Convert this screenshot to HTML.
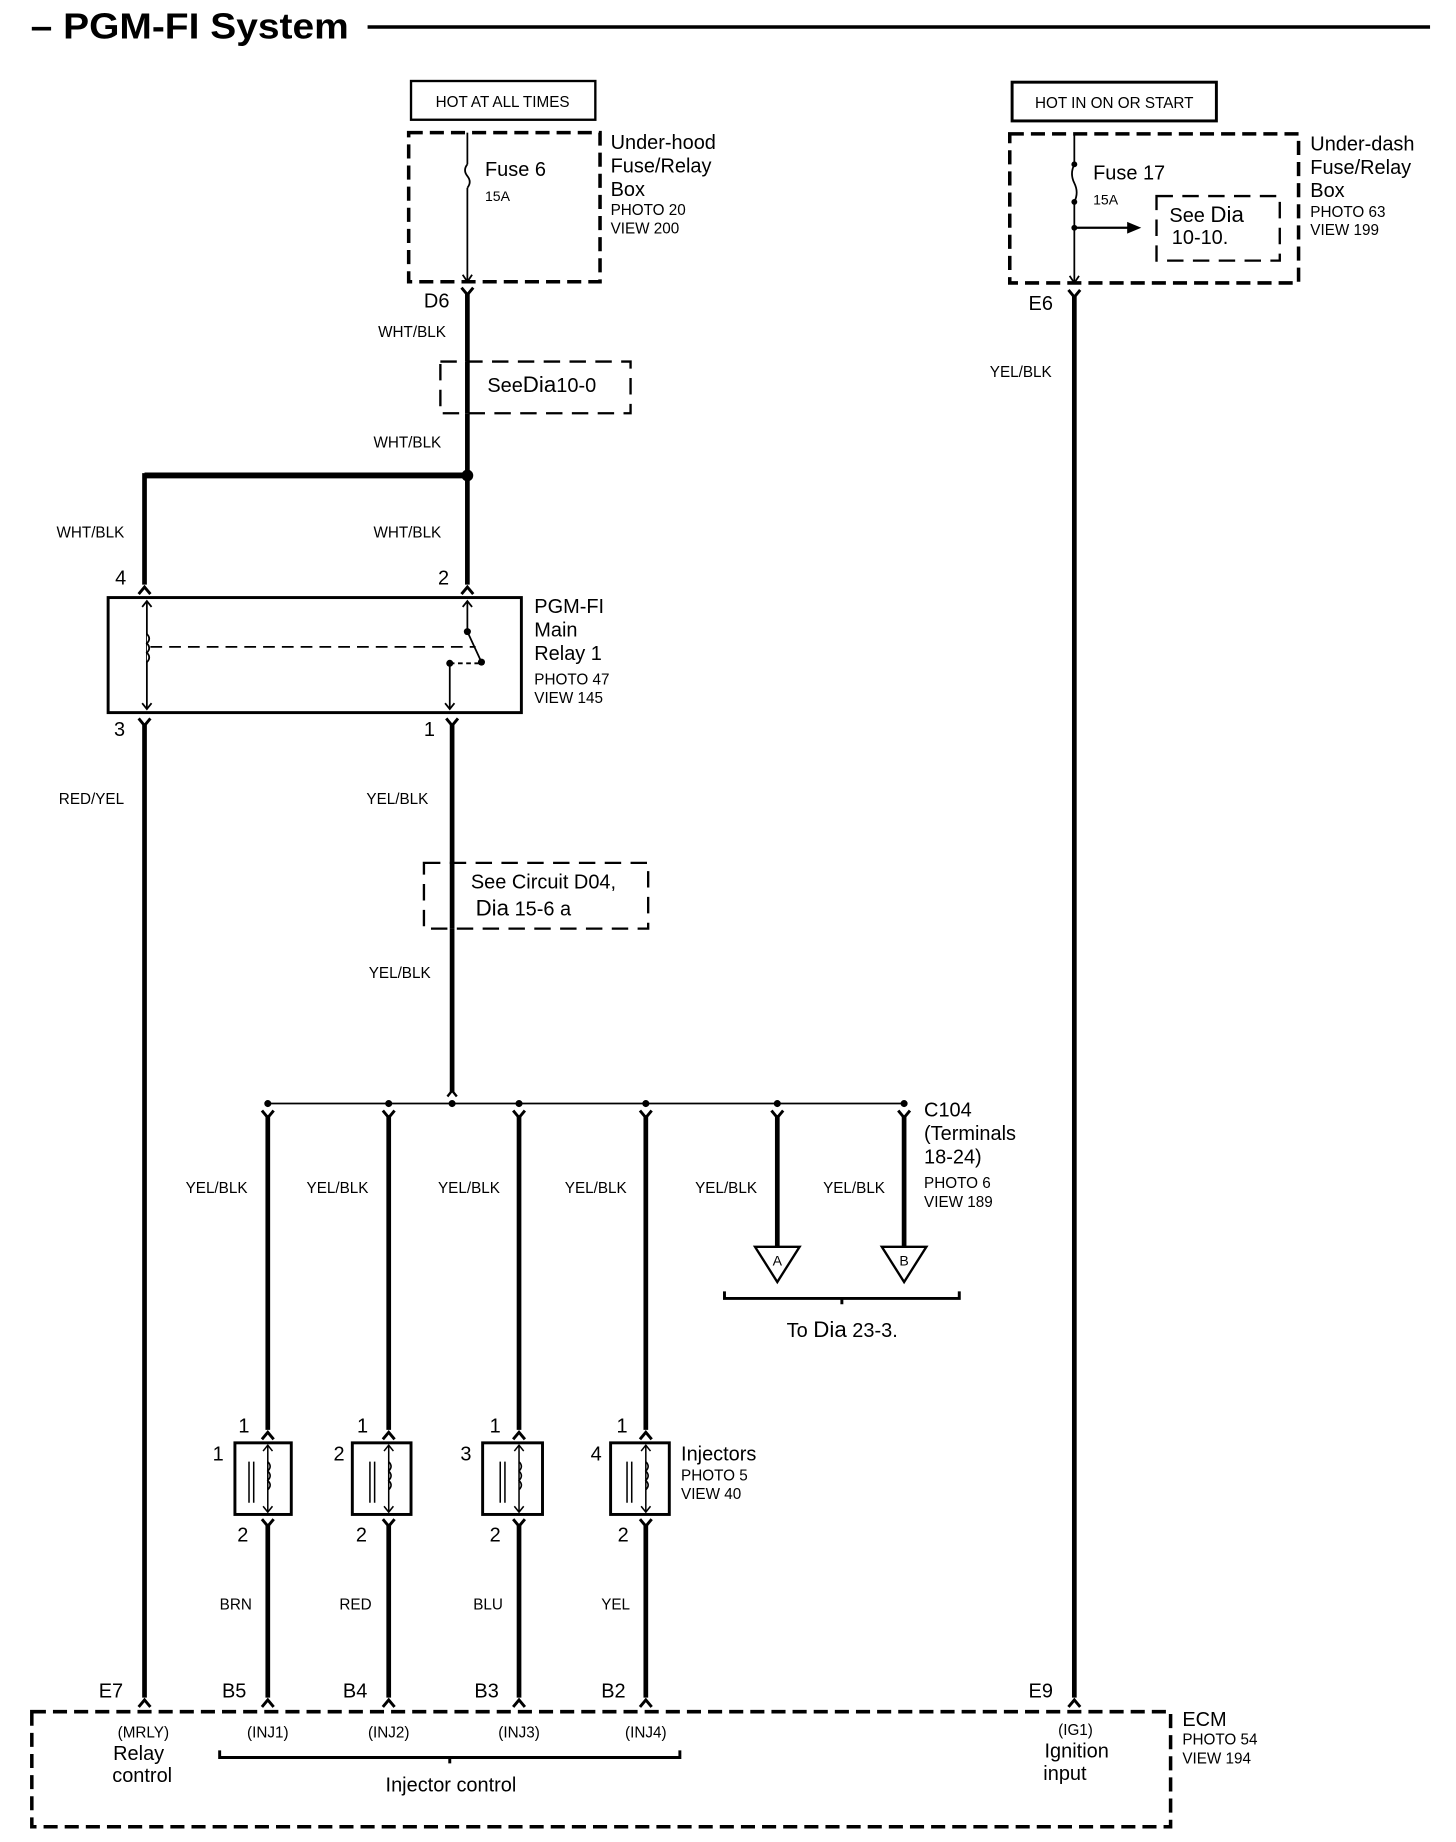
<!DOCTYPE html>
<html><head><meta charset="utf-8"><style>
html,body{margin:0;padding:0;background:#fff}
svg{display:block}
text{font-family:"Liberation Sans",sans-serif;fill:#000}
.s13{font-size:13px}.s17{font-size:17px}
</style></head><body>
<svg width="1456" height="1842" viewBox="0 0 1240 1569" xmlns="http://www.w3.org/2000/svg">
<defs>
<path id="fdn" d="M-5,-4 L0,2 L5,-4" fill="none" stroke="#000" stroke-width="2.5"/>
<path id="fup" d="M-5,4 L0,-2 L5,4" fill="none" stroke="#000" stroke-width="2.5"/>
</defs>
<!-- title -->
<text x="26" y="33" textLength="271" lengthAdjust="spacingAndGlyphs" style="font-size:31px;font-weight:bold">– PGM-FI System</text>
<line x1="313" y1="23" x2="1218" y2="23" stroke="#000" stroke-width="3"/>

<!-- left supply -->
<rect x="350" y="69" width="157" height="33" fill="none" stroke="#000" stroke-width="2"/>
<text x="428" y="91" class="s13" text-anchor="middle">HOT AT ALL TIMES</text>
<rect x="348" y="113" width="163" height="127" fill="none" stroke="#000" stroke-width="3" stroke-dasharray="12,6"/>
<line x1="398" y1="113" x2="398" y2="140" stroke="#000" stroke-width="1.5"/>
<path d="M398,140 q-4,5 0,10 q4,5 0,10" fill="none" stroke="#000" stroke-width="1.5"/>
<line x1="398" y1="160" x2="398" y2="240" stroke="#000" stroke-width="1.5"/>
<path d="M394,234 L398,240 L402,234" fill="none" stroke="#000" stroke-width="1.5"/>
<text x="413" y="150" class="s17">Fuse 6</text>
<text x="413" y="171" style="font-size:12px">15A</text>
<text x="520" y="127" class="s17">Under-hood</text>
<text x="520" y="147" class="s17">Fuse/Relay</text>
<text x="520" y="167" class="s17">Box</text>
<text x="520" y="183" class="s13">PHOTO 20</text>
<text x="520" y="199" class="s13">VIEW 200</text>
<text x="361" y="262" class="s17">D6</text>
<use href="#fdn" x="398" y="249"/>
<line x1="398" y1="250" x2="398" y2="405" stroke="#000" stroke-width="4"/>
<text x="322" y="287" class="s13">WHT/BLK</text>
<rect x="375" y="308" width="162" height="44" fill="#fff" stroke="#000" stroke-width="2" stroke-dasharray="14,8"/>
<line x1="398" y1="308" x2="398" y2="352" stroke="#000" stroke-width="4"/>
<text x="415" y="334" class="s17">See<tspan style="font-size:19px">Dia</tspan>10-0</text>
<text x="318" y="381" class="s13">WHT/BLK</text>
<circle cx="398" cy="405" r="5"/>
<line x1="123" y1="405" x2="398" y2="405" stroke="#000" stroke-width="5"/>
<line x1="123" y1="403" x2="123" y2="498" stroke="#000" stroke-width="4"/>
<line x1="398" y1="405" x2="398" y2="498" stroke="#000" stroke-width="4"/>
<text x="48" y="458" class="s13">WHT/BLK</text>
<text x="318" y="458" class="s13">WHT/BLK</text>
<text x="98" y="498" class="s17">4</text>
<text x="373" y="498" class="s17">2</text>
<use href="#fup" x="123" y="502"/>
<use href="#fup" x="398" y="502"/>

<!-- relay -->
<rect x="92" y="509" width="352" height="98" fill="none" stroke="#000" stroke-width="2.5"/>
<line x1="125" y1="512" x2="125" y2="604" stroke="#000" stroke-width="1.5"/>
<path d="M121,517 L125,512 L129,517 M121,599 L125,604 L129,599" fill="none" stroke="#000" stroke-width="1.5"/>
<path d="M125,540 q4,4 0,8 q4,4 0,8 q4,4 0,8" fill="#fff" stroke="#000" stroke-width="1.5"/>
<line x1="128" y1="551" x2="405" y2="551" stroke="#000" stroke-width="1.5" stroke-dasharray="10,6"/>
<line x1="398" y1="512" x2="398" y2="538" stroke="#000" stroke-width="1.5"/>
<path d="M394,517 L398,512 L402,517" fill="none" stroke="#000" stroke-width="1.5"/>
<circle cx="398" cy="538" r="3"/>
<line x1="398" y1="538" x2="410" y2="564" stroke="#000" stroke-width="1.5"/>
<circle cx="410" cy="564" r="3"/>
<circle cx="383" cy="565" r="3"/>
<line x1="383" y1="565" x2="410" y2="565" stroke="#000" stroke-width="1.5" stroke-dasharray="4,3"/>
<line x1="383" y1="565" x2="383" y2="604" stroke="#000" stroke-width="1.5"/>
<path d="M379,599 L383,604 L387,599" fill="none" stroke="#000" stroke-width="1.5"/>
<text x="455" y="522" class="s17">PGM-FI</text>
<text x="455" y="542" class="s17">Main</text>
<text x="455" y="562" class="s17">Relay 1</text>
<text x="455" y="583" class="s13">PHOTO 47</text>
<text x="455" y="599" class="s13">VIEW 145</text>
<text x="97" y="627" class="s17">3</text>
<text x="361" y="627" class="s17">1</text>
<use href="#fdn" x="123" y="616"/>
<use href="#fdn" x="385" y="616"/>
<line x1="123" y1="617" x2="123" y2="1446" stroke="#000" stroke-width="4"/>
<line x1="385" y1="617" x2="385" y2="930" stroke="#000" stroke-width="4"/>
<text x="50" y="685" class="s13">RED/YEL</text>
<text x="312" y="685" class="s13">YEL/BLK</text>
<rect x="361" y="735" width="191" height="56" fill="#fff" stroke="#000" stroke-width="2" stroke-dasharray="14,8"/>
<line x1="385" y1="735" x2="385" y2="791" stroke="#000" stroke-width="4"/>
<text x="401" y="757" class="s17">See Circuit D04,</text>
<text x="405" y="780" class="s17"><tspan style="font-size:19px">Dia</tspan> 15-6 a</text>
<text x="314" y="833" class="s13">YEL/BLK</text>
<path d="M381,934 L385,929 L389,934" fill="none" stroke="#000" stroke-width="2"/>

<!-- bus -->
<line x1="228" y1="940" x2="770" y2="940" stroke="#000" stroke-width="1.5"/>
<g fill="#000">
<circle cx="228" cy="940" r="3"/><circle cx="331" cy="940" r="3"/><circle cx="385" cy="940" r="3"/>
<circle cx="442" cy="940" r="3"/><circle cx="550" cy="940" r="3"/><circle cx="662" cy="940" r="3"/><circle cx="770" cy="940" r="3"/>
</g>
<g stroke="#000" stroke-width="4">
<line x1="228" y1="950" x2="228" y2="1218"/>
<line x1="331" y1="950" x2="331" y2="1218"/>
<line x1="442" y1="950" x2="442" y2="1218"/>
<line x1="550" y1="950" x2="550" y2="1218"/>
<line x1="662" y1="950" x2="662" y2="1062"/>
<line x1="770" y1="950" x2="770" y2="1062"/>
<line x1="228" y1="1298" x2="228" y2="1446"/>
<line x1="331" y1="1298" x2="331" y2="1446"/>
<line x1="442" y1="1298" x2="442" y2="1446"/>
<line x1="550" y1="1298" x2="550" y2="1446"/>
</g>
<use href="#fdn" x="228" y="950"/><use href="#fdn" x="331" y="950"/><use href="#fdn" x="442" y="950"/>
<use href="#fdn" x="550" y="950"/><use href="#fdn" x="662" y="950"/><use href="#fdn" x="770" y="950"/>
<text x="158" y="1016" class="s13">YEL/BLK</text>
<text x="261" y="1016" class="s13">YEL/BLK</text>
<text x="373" y="1016" class="s13">YEL/BLK</text>
<text x="481" y="1016" class="s13">YEL/BLK</text>
<text x="592" y="1016" class="s13">YEL/BLK</text>
<text x="701" y="1016" class="s13">YEL/BLK</text>
<text x="787" y="951" class="s17">C104</text>
<text x="787" y="971" class="s17">(Terminals</text>
<text x="787" y="991" class="s17">18-24)</text>
<text x="787" y="1012" class="s13">PHOTO 6</text>
<text x="787" y="1028" class="s13">VIEW 189</text>
<polygon points="643,1062 681,1062 662,1092" fill="#fff" stroke="#000" stroke-width="2"/>
<polygon points="751,1062 789,1062 770,1092" fill="#fff" stroke="#000" stroke-width="2"/>
<text x="662" y="1078" style="font-size:12px" text-anchor="middle">A</text>
<text x="770" y="1078" style="font-size:12px" text-anchor="middle">B</text>
<path d="M617,1100 L617,1106 L817,1106 L817,1100 M717,1106 L717,1111" fill="none" stroke="#000" stroke-width="2.5"/>
<text x="670" y="1139" class="s17">To <tspan style="font-size:19px">Dia</tspan> 23-3.</text>

<!-- injectors -->
<g>
<text x="203" y="1220" class="s17">1</text><text x="304" y="1220" class="s17">1</text><text x="417" y="1220" class="s17">1</text><text x="525" y="1220" class="s17">1</text>
<text x="181" y="1244" class="s17">1</text><text x="284" y="1244" class="s17">2</text><text x="392" y="1244" class="s17">3</text><text x="503" y="1244" class="s17">4</text>
<text x="202" y="1313" class="s17">2</text><text x="303" y="1313" class="s17">2</text><text x="417" y="1313" class="s17">2</text><text x="526" y="1313" class="s17">2</text>
</g>
<g fill="none" stroke="#000">
<rect x="200" y="1229" width="48" height="61" stroke-width="2.5"/>
<rect x="300" y="1229" width="50" height="61" stroke-width="2.5"/>
<rect x="411" y="1229" width="51" height="61" stroke-width="2.5"/>
<rect x="520" y="1229" width="50" height="61" stroke-width="2.5"/>
</g>
<g fill="none" stroke="#000" stroke-width="1.3">
<path d="M228,1232 V1287 M224,1236 L228,1231 L232,1236 M224,1283 L228,1288 L232,1283 M228,1245 q4,4 0,8 q4,4 0,8 q4,4 0,8 M212,1245 V1280 M216,1245 V1280"/>
<path d="M331,1232 V1287 M327,1236 L331,1231 L335,1236 M327,1283 L331,1288 L335,1283 M331,1245 q4,4 0,8 q4,4 0,8 q4,4 0,8 M315,1245 V1280 M319,1245 V1280"/>
<path d="M442,1232 V1287 M438,1236 L442,1231 L446,1236 M438,1283 L442,1288 L446,1283 M442,1245 q4,4 0,8 q4,4 0,8 q4,4 0,8 M426,1245 V1280 M430,1245 V1280"/>
<path d="M550,1232 V1287 M546,1236 L550,1231 L554,1236 M546,1283 L550,1288 L554,1283 M550,1245 q4,4 0,8 q4,4 0,8 q4,4 0,8 M534,1245 V1280 M538,1245 V1280"/>
</g>
<use href="#fup" x="228" y="1222"/><use href="#fup" x="331" y="1222"/><use href="#fup" x="442" y="1222"/><use href="#fup" x="550" y="1222"/>
<use href="#fdn" x="228" y="1298"/><use href="#fdn" x="331" y="1298"/><use href="#fdn" x="442" y="1298"/><use href="#fdn" x="550" y="1298"/>
<text x="580" y="1244" class="s17">Injectors</text>
<text x="580" y="1261" class="s13">PHOTO 5</text>
<text x="580" y="1277" class="s13">VIEW 40</text>
<text x="187" y="1371" class="s13">BRN</text>
<text x="289" y="1371" class="s13">RED</text>
<text x="403" y="1371" class="s13">BLU</text>
<text x="512" y="1371" class="s13">YEL</text>

<!-- right supply -->
<rect x="862" y="70" width="174" height="33" fill="none" stroke="#000" stroke-width="2.5"/>
<text x="949" y="92" class="s13" text-anchor="middle">HOT IN ON OR START</text>
<rect x="860" y="114" width="246" height="127" fill="none" stroke="#000" stroke-width="3" stroke-dasharray="12,6"/>
<line x1="915" y1="114" x2="915" y2="140" stroke="#000" stroke-width="1.5"/>
<circle cx="915" cy="140" r="2.5"/>
<path d="M915,140 q-4,8 0,16 q4,8 0,16" fill="none" stroke="#000" stroke-width="1.5"/>
<circle cx="915" cy="172" r="2.5"/>
<line x1="915" y1="172" x2="915" y2="241" stroke="#000" stroke-width="1.5"/>
<circle cx="915" cy="194" r="2.5"/>
<line x1="915" y1="194" x2="962" y2="194" stroke="#000" stroke-width="2"/>
<polygon points="960,189 972,194 960,199"/>
<path d="M911,235 L915,241 L919,235" fill="none" stroke="#000" stroke-width="1.5"/>
<rect x="985" y="167" width="105" height="55" fill="none" stroke="#000" stroke-width="2" stroke-dasharray="14,8"/>
<text x="996" y="189" class="s17">See <tspan style="font-size:19px">Dia</tspan></text>
<text x="998" y="208" class="s17">10-10.</text>
<text x="931" y="153" class="s17">Fuse 17</text>
<text x="931" y="174" style="font-size:12px">15A</text>
<text x="1116" y="128" class="s17">Under-dash</text>
<text x="1116" y="148" class="s17">Fuse/Relay</text>
<text x="1116" y="168" class="s17">Box</text>
<text x="1116" y="185" class="s13">PHOTO 63</text>
<text x="1116" y="200" class="s13">VIEW 199</text>
<text x="876" y="264" class="s17">E6</text>
<use href="#fdn" x="915" y="251"/>
<line x1="915" y1="252" x2="915" y2="1446" stroke="#000" stroke-width="4"/>
<text x="843" y="321" class="s13">YEL/BLK</text>

<!-- ECM -->
<text x="84" y="1446" class="s17">E7</text>
<text x="189" y="1446" class="s17">B5</text>
<text x="292" y="1446" class="s17">B4</text>
<text x="404" y="1446" class="s17">B3</text>
<text x="512" y="1446" class="s17">B2</text>
<text x="876" y="1446" class="s17">E9</text>
<use href="#fup" x="123" y="1450"/><use href="#fup" x="228" y="1450"/><use href="#fup" x="331" y="1450"/>
<use href="#fup" x="442" y="1450"/><use href="#fup" x="550" y="1450"/><use href="#fup" x="915" y="1450"/>
<rect x="27" y="1458" width="970" height="98" fill="none" stroke="#000" stroke-width="3" stroke-dasharray="12,6"/>
<text x="122" y="1480" class="s13" text-anchor="middle">(MRLY)</text>
<text x="118" y="1499" class="s17" text-anchor="middle">Relay</text>
<text x="121" y="1518" class="s17" text-anchor="middle">control</text>
<text x="228" y="1480" class="s13" text-anchor="middle">(INJ1)</text>
<text x="331" y="1480" class="s13" text-anchor="middle">(INJ2)</text>
<text x="442" y="1480" class="s13" text-anchor="middle">(INJ3)</text>
<text x="550" y="1480" class="s13" text-anchor="middle">(INJ4)</text>
<path d="M187,1491 L187,1497 L579,1497 L579,1491 M383,1497 L383,1502" fill="none" stroke="#000" stroke-width="2.5"/>
<text x="384" y="1526" class="s17" text-anchor="middle">Injector control</text>
<text x="916" y="1478" class="s13" text-anchor="middle">(IG1)</text>
<text x="917" y="1497" class="s17" text-anchor="middle">Ignition</text>
<text x="907" y="1516" class="s17" text-anchor="middle">input</text>
<text x="1007" y="1470" class="s17">ECM</text>
<text x="1007" y="1486" class="s13">PHOTO 54</text>
<text x="1007" y="1502" class="s13">VIEW 194</text>
</svg>
</body></html>
